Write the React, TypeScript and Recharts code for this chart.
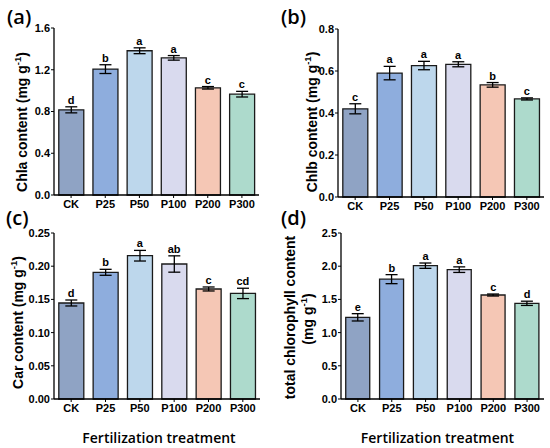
import React from 'react';
import { ComposedChart, Bar, Cell, XAxis, YAxis, ErrorBar, Line, LabelList } from 'recharts';

const categories = ['CK', 'P25', 'P50', 'P100', 'P200', 'P300'];
const barColors = ['#8FA3C4', '#8EADDD', '#BDD7EC', '#D9DAEE', '#F5C7B5', '#ADDACC'];

const chlaValues = [0.816, 1.206, 1.382, 1.314, 1.027, 0.966];
const chlaErrors = [0.029, 0.042, 0.028, 0.022, 0.012, 0.027];
const chlaLetters = ['d', 'b', 'a', 'a', 'c', 'c'];
const chlaTicks = [0, 0.4, 0.8, 1.2, 1.6];

const chlbValues = [0.42, 0.59, 0.626, 0.632, 0.534, 0.467];
const chlbErrors = [0.024, 0.032, 0.02, 0.012, 0.011, 0.005];
const chlbLetters = ['c', 'a', 'a', 'a', 'b', 'c'];
const chlbTicks = [0, 0.2, 0.4, 0.6, 0.8];

const carValues = [0.1446, 0.1908, 0.2158, 0.2033, 0.1657, 0.159];
const carErrors = [0.0045, 0.0045, 0.008, 0.0123, 0.003, 0.0078];
const carLetters = ['d', 'b', 'a', 'ab', 'c', 'cd'];
const carTicks = [0, 0.05, 0.1, 0.15, 0.2, 0.25];

const totalValues = [1.23, 1.805, 2.008, 1.948, 1.566, 1.441];
const totalErrors = [0.055, 0.068, 0.04, 0.042, 0.015, 0.032];
const totalLetters = ['e', 'b', 'a', 'a', 'c', 'd'];
const totalTicks = [0, 0.5, 1.0, 1.5, 2.0, 2.5];

const TICK_FONT = '"Liberation Sans", Arial, sans-serif';
const TITLE_FONT = '"Open Sans", sans-serif';

type PanelProps = {
  left: number;
  top: number;
  margin: { top: number; right: number; bottom: number; left: number };
  ticks: number[];
  decimals: number;
  values: number[];
  errors: number[];
  letters: string[];
};

function Panel({ left, top, margin, ticks, decimals, values, errors, letters }: PanelProps) {
  const data = categories.map((name, i) => ({
    name,
    value: values[i],
    err: errors[i],
    top: values[i] + errors[i],
    letter: letters[i],
  }));
  const tickStyle = { fill: '#000', fontSize: 11, fontWeight: 'bold' as const, fontFamily: TICK_FONT };
  return (
    <div style={{ position: 'absolute', left, top }}>
      <ComposedChart width={275} height={224} data={data} margin={margin} barCategoryGap="14%">
        <XAxis
          dataKey="name"
          height={20}
          tick={tickStyle}
          tickSize={3}
          tickMargin={2}
          interval={0}
          axisLine={{ stroke: '#000', strokeWidth: 1.3 }}
          tickLine={{ stroke: '#000', strokeWidth: 1 }}
        />
        <XAxis
          xAxisId="top"
          dataKey="name"
          orientation="top"
          height={0}
          tick={false}
          tickLine={false}
          axisLine={{ stroke: '#000', strokeWidth: 1.3 }}
        />
        <YAxis
          width={34}
          domain={[ticks[0], ticks[ticks.length - 1]]}
          ticks={ticks}
          interval={0}
          tickFormatter={(v: number) => v.toFixed(decimals)}
          tick={tickStyle}
          tickSize={3}
          tickMargin={1}
          axisLine={{ stroke: '#000', strokeWidth: 1.3 }}
          tickLine={{ stroke: '#000', strokeWidth: 1 }}
        />
        <YAxis
          yAxisId="right"
          orientation="right"
          width={0}
          domain={[0, 1]}
          tick={false}
          tickLine={false}
          axisLine={{ stroke: '#000', strokeWidth: 1.3 }}
        />
        <Bar dataKey="value" stroke="#1a1a1a" strokeWidth={1.3} isAnimationActive={false}>
          {data.map((d, i) => (
            <Cell key={d.name} fill={barColors[i]} />
          ))}
          <ErrorBar dataKey="err" width={6} stroke="#000" strokeWidth={1.3} />
        </Bar>
        <Line
          dataKey="top"
          stroke="none"
          dot={false}
          activeDot={false}
          legendType="none"
          isAnimationActive={false}
        >
          <LabelList
            dataKey="letter"
            position="top"
            offset={3}
            fill="#000"
            fontSize={11}
            fontWeight="bold"
            fontFamily={TICK_FONT}
          />
        </Line>
      </ComposedChart>
    </div>
  );
}

function YLabel({ x, y, text }: { x: number; y: number; text: string }) {
  return (
    <text
      x={x}
      y={y}
      transform={`rotate(-90 ${x} ${y})`}
      textAnchor="middle"
      fontFamily={TICK_FONT}
      fontWeight="bold"
      fontSize={14}
      fill="#000"
    >
      {text}
      <tspan dy={-6} fontSize={9.5}>
        -1
      </tspan>
      <tspan dy={6}>)</tspan>
    </text>
  );
}

export default function App() {
  return (
    <div style={{ position: 'absolute', left: 0, top: 0, width: 550, height: 448, background: '#fff' }}>
      <Panel
        left={0}
        top={0}
        margin={{ top: 28, right: 16, bottom: 9, left: 20 }}
        ticks={chlaTicks}
        decimals={1}
        values={chlaValues}
        errors={chlaErrors}
        letters={chlaLetters}
      />
      <Panel
        left={275}
        top={0}
        margin={{ top: 29, right: 6, bottom: 7, left: 29 }}
        ticks={chlbTicks}
        decimals={1}
        values={chlbValues}
        errors={chlbErrors}
        letters={chlbLetters}
      />
      <Panel
        left={0}
        top={224}
        margin={{ top: 9, right: 15, bottom: 29, left: 20 }}
        ticks={carTicks}
        decimals={2}
        values={carValues}
        errors={carErrors}
        letters={carLetters}
      />
      <Panel
        left={275}
        top={224}
        margin={{ top: 9, right: 6, bottom: 29, left: 32 }}
        ticks={totalTicks}
        decimals={1}
        values={totalValues}
        errors={totalErrors}
        letters={totalLetters}
      />
      <svg
        width={550}
        height={448}
        style={{ position: 'absolute', left: 0, top: 0, pointerEvents: 'none' }}
      >
        <g fontFamily={TITLE_FONT} fontWeight={600} fontSize={20} fill="#000">
          <text x={7} y={24}>(a)</text>
          <text x={281} y={24}>(b)</text>
          <text x={6} y={225}>(c)</text>
          <text x={281} y={225}>(d)</text>
        </g>
        <YLabel x={27} y={122} text="Chla content (mg g" />
        <YLabel x={316.5} y={122} text="Chlb content (mg g" />
        <YLabel x={22.7} y={322.5} text="Car content (mg g" />
        <text
          x={295}
          y={317.5}
          transform="rotate(-90 295 317.5)"
          textAnchor="middle"
          fontFamily={TICK_FONT}
          fontWeight="bold"
          fontSize={14}
          fill="#000"
        >
          total chlorophyll content
        </text>
        <YLabel x={312.5} y={319} text="(mg g" />
        <g fontFamily={TITLE_FONT} fontWeight={600} fontSize={14} fill="#000" textAnchor="middle">
          <text x={159} y={443}>Fertilization treatment</text>
          <text x={437.5} y={443}>Fertilization treatment</text>
        </g>
      </svg>
    </div>
  );
}
